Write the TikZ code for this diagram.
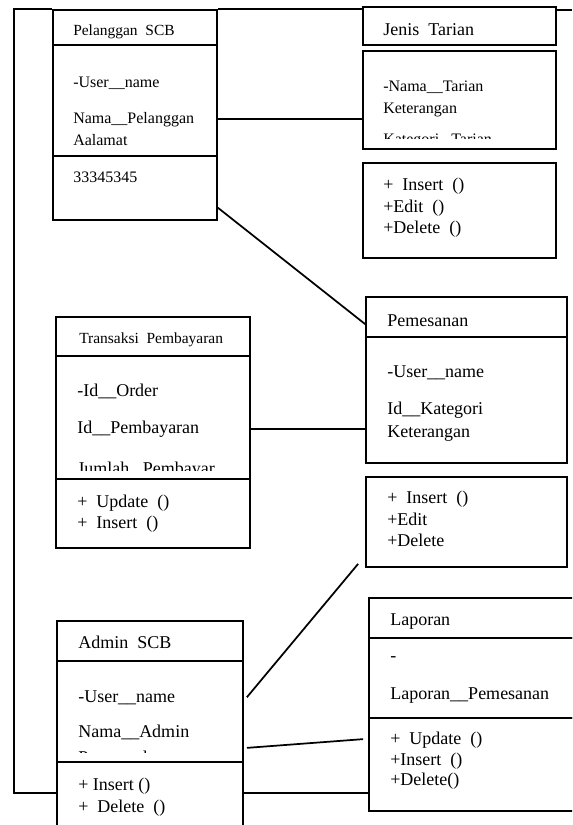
\documentclass[tikz,border=0pt]{standalone}
\usepackage{fontspec}
\setmainfont{Liberation Serif}
\usetikzlibrary{calc,fit}
\tikzset{
    box/.style   = {draw, line width=1.3pt, inner sep=0pt},
    assoc/.style = {draw, line width=1.3pt},
    txt/.style   = {anchor=base west, inner sep=0pt, font=\fontsize{12}{14}\selectfont},
    txtS/.style  = {txt, font=\fontsize{11.6}{13}\selectfont},
    txtB/.style  = {txt, font=\fontsize{13.5}{16}\selectfont},
}

\begin{document}
\begin{tikzpicture}[x=0.75pt, y=-0.75pt]
    \useasboundingbox (0,0) rectangle (572,825);
    \clip (0,0) rectangle (572,825);

    % Pelanggan SCB
    \node[box, fit={(53,10) (217,45)}] (pelHead) {};
    \node[box, fit={(53,45) (217,156)}] (pelAttr) {};
    \node[box, fit={(53,156) (217,220)}] (pelOps) {};
    \node[txtS] (pelName) at (73,35) {Pelanggan\ \ SCB};
    \node[txt] (pelA1) at (73,87) {-User\_\_name};
    \node[txt] (pelA2) at (73,123) {Nama\_\_Pelanggan};
    \node[txt] (pelA3) at (73,145) {Aalamat};
    \node[txt] (pelO1) at (73,182) {33345345};

    % Jenis Tarian
    \node[box, fit={(363,7) (556,45)}] (jenHead) {};
    \node[box, fit={(363,51) (556,149)}] (jenAttr) {};
    \node[box, fit={(363,163) (556,258)}] (jenOps) {};
    \node[txtB] (jenName) at (383,35) {Jenis\ \ Tarian};
    \node[txt] (jenA1) at (383,91) {-Nama\_\_Tarian};
    \node[txt] (jenA2) at (383,113) {Keterangan};
    \begin{scope}
        \clip (363,51) rectangle (556,138);
        \node[txt] (jenA3) at (383,144) {Kategori\ \ \ Tarian};
    \end{scope}
    \node[txtB] (jenO1) at (383,190) {+\ \ Insert\ \ ()};
    \node[txtB] (jenO2) at (383,212) {+Edit\ \ ()};
    \node[txtB] (jenO3) at (383,233) {+Delete\ \ ()};

    % Transaksi Pembayaran
    \node[box, fit={(56,317) (250,356)}] (traHead) {};
    \node[box, fit={(56,356) (250,479)}] (traAttr) {};
    \node[box, fit={(56,479) (250,548)}] (traOps) {};
    \node[txtS] (traName) at (79,343) {Transaksi\ \ Pembayaran};
    \node[txtB] (traA1) at (77,396) {-Id\_\_Order};
    \node[txtB] (traA2) at (77,433) {Id\_\_Pembayaran};
    \begin{scope}
        \clip (56,356) rectangle (250,470);
        \node[txtB] (traA3) at (77,474) {Jumlah\ \ \ Pembayar};
    \end{scope}
    \node[txtB] (traO1) at (77,507) {+\ \ Update\ \ ()};
    \node[txtB] (traO2) at (77,528) {+\ \ Insert\ \ ()};

    % Pemesanan
    \node[box, fit={(366,297) (567,337)}] (pemHead) {};
    \node[box, fit={(366,337) (567,463)}] (pemAttr) {};
    \node[box, fit={(366,477) (567,567)}] (pemOps) {};
    \node[txtB] (pemName) at (387,326) {Pemesanan};
    \node[txtB] (pemA1) at (387,377) {-User\_\_name};
    \node[txtB] (pemA2) at (387,414) {Id\_\_Kategori};
    \node[txtB] (pemA3) at (387,437) {Keterangan};
    \node[txtB] (pemO1) at (387,503) {+\ \ Insert\ \ ()};
    \node[txtB] (pemO2) at (387,525) {+Edit};
    \node[txtB] (pemO3) at (387,546) {+Delete};

    % Admin SCB
    \node[box, fit={(57,621) (243,661)}] (admHead) {};
    \node[box, fit={(57,661) (243,762)}] (admAttr) {};
    \node[box, fit={(57,762) (243,840)}] (admOps) {};
    \node[txtB] (admName) at (78,648) {Admin\ \ SCB};
    \node[txtB] (admA1) at (78,702) {-User\_\_name};
    \node[txtB] (admA2) at (78,737) {Nama\_\_Admin};
    \begin{scope}
        \clip (57,661) rectangle (243,752);
        \node[txtB] (admA3) at (78,763) {Password};
    \end{scope}
    \node[txtB] (admO1) at (78,790) {+ Insert ()};
    \node[txtB] (admO2) at (78,812) {+\ \ Delete\ \ ()};

    % Laporan
    \node[box, fit={(369,598) (600,638)}] (lapHead) {};
    \node[box, fit={(369,638) (600,718)}] (lapAttr) {};
    \node[box, fit={(369,718) (600,811)}] (lapOps) {};
    \node[txtB] (lapName) at (390,625) {Laporan};
    \node[txtB] (lapA1) at (390,661) {-};
    \node[txtB] (lapA2) at (390,699) {Laporan\_\_Pemesanan};
    \node[txtB] (lapO1) at (390,744) {+\ \ Update\ \ ()};
    \node[txtB] (lapO2) at (390,765) {+Insert\ \ ()};
    \node[txtB] (lapO3) at (390,785) {+Delete()};

    % Lines
    \coordinate (loopL) at (14,793);
    \coordinate (edgeR) at (572,10);
    \draw[assoc] (admOps.west |- loopL) -- (loopL) |- (pelHead.north west);
    \draw[assoc] (pelHead.north east) -- (pelHead.north east -| jenHead.west);
    \draw[assoc] (jenHead.east |- edgeR) -- (edgeR);
    \draw[assoc] (pelAttr.east |- pelA2) -- (jenAttr.west |- pelA2);
    \draw[assoc] ($(pelOps.south east)!0.2!(pelOps.north east)$) -- ($(pemHead.south west)!0.33!(pemHead.north west)$);
    \draw[assoc] (traAttr.east |- traA2) -- (pemAttr.west |- traA2);
    \draw[assoc] ($(admAttr.east |- admA1)+(3,0)$) -- ($(pemOps.south west)+(-7,-4)$);
    \draw[assoc] ($(admAttr.south east)+(3,-15)$) -- ($(lapOps.north west)+(-5,22)$);
    \draw[assoc] (admOps.east |- loopL) -- (lapOps.west |- loopL);
\end{tikzpicture}
\end{document}
